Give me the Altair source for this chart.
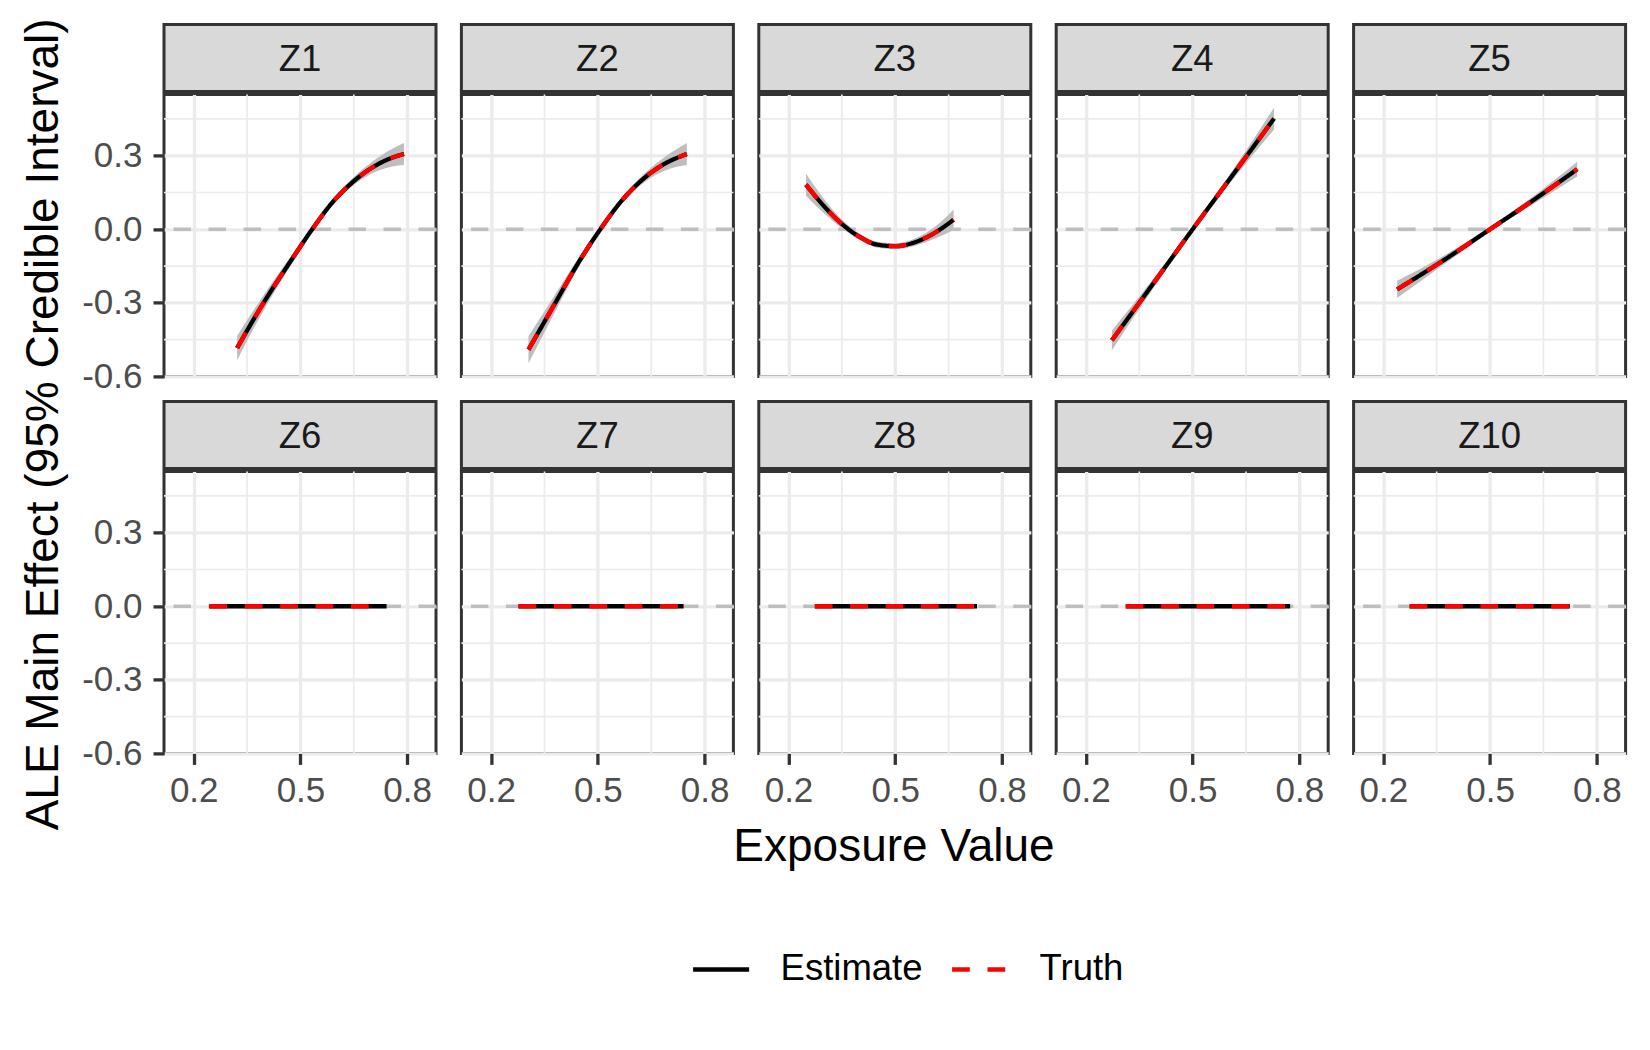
import altair as alt
import pandas as pd

FONT = "Liberation Sans"

PANELS = ["Z1", "Z2", "Z3", "Z4", "Z5", "Z6", "Z7", "Z8", "Z9", "Z10"]

Z1_X = [0.322, 0.392, 0.477, 0.533, 0.589, 0.645, 0.702, 0.758, 0.791]
Z1_EST = [-0.484, -0.310, -0.120, 0.000, 0.108, 0.190, 0.252, 0.292, 0.307]
Z1_TRUTH = [-0.484, -0.310, -0.120, 0.000, 0.108, 0.190, 0.252, 0.292, 0.307]
Z1_LO = [-0.534, -0.342, -0.138, -0.012, 0.096, 0.174, 0.228, 0.256, 0.262]
Z1_HI = [-0.434, -0.278, -0.102, 0.012, 0.120, 0.206, 0.276, 0.328, 0.352]

Z2_X = [0.305, 0.380, 0.446, 0.507, 0.568, 0.633, 0.689, 0.750]
Z2_EST = [-0.491, -0.301, -0.135, 0.000, 0.118, 0.212, 0.268, 0.307]
Z2_TRUTH = [-0.491, -0.301, -0.135, 0.000, 0.118, 0.212, 0.268, 0.307]
Z2_LO = [-0.546, -0.336, -0.155, -0.012, 0.106, 0.194, 0.240, 0.262]
Z2_HI = [-0.436, -0.266, -0.115, 0.012, 0.130, 0.230, 0.296, 0.352]

Z3_X = [0.249, 0.298, 0.349, 0.400, 0.447, 0.501, 0.559, 0.615, 0.664]
Z3_EST = [0.182, 0.097, 0.023, -0.031, -0.062, -0.069, -0.051, -0.011, 0.039]
Z3_TRUTH = [0.182, 0.097, 0.023, -0.031, -0.062, -0.069, -0.051, -0.011, 0.039]
Z3_LO = [0.137, 0.067, 0.005, -0.044, -0.074, -0.081, -0.066, -0.036, -0.003]
Z3_HI = [0.227, 0.127, 0.041, -0.018, -0.050, -0.057, -0.036, 0.014, 0.081]

Z4_X = [0.273, 0.387, 0.500, 0.615, 0.729]
Z4_EST = [-0.453, -0.226, 0.000, 0.226, 0.452]
Z4_TRUTH = [-0.453, -0.226, 0.000, 0.226, 0.452]
Z4_LO = [-0.493, -0.246, -0.010, 0.206, 0.407]
Z4_HI = [-0.413, -0.206, 0.010, 0.246, 0.497]

Z5_X = [0.239, 0.370, 0.500, 0.620, 0.745]
Z5_EST = [-0.245, -0.126, 0.000, 0.117, 0.245]
Z5_TRUTH = [-0.245, -0.126, 0.000, 0.117, 0.245]
Z5_LO = [-0.280, -0.144, -0.010, 0.101, 0.215]
Z5_HI = [-0.210, -0.108, 0.010, 0.133, 0.275]

Z6_X = [0.244, 0.742]
Z7_X = [0.277, 0.741]
Z8_X = [0.274, 0.730]
Z9_X = [0.312, 0.774]
Z10_X = [0.274, 0.724]
NULL_EST = [0.0, 0.0]
NULL_TRUTH = [0.0, 0.0]
NULL_LO = [-0.004, -0.004]
NULL_HI = [0.004, 0.004]

DATA = {
    "Z1": (Z1_X, Z1_EST, Z1_TRUTH, Z1_LO, Z1_HI),
    "Z2": (Z2_X, Z2_EST, Z2_TRUTH, Z2_LO, Z2_HI),
    "Z3": (Z3_X, Z3_EST, Z3_TRUTH, Z3_LO, Z3_HI),
    "Z4": (Z4_X, Z4_EST, Z4_TRUTH, Z4_LO, Z4_HI),
    "Z5": (Z5_X, Z5_EST, Z5_TRUTH, Z5_LO, Z5_HI),
    "Z6": (Z6_X, NULL_EST, NULL_TRUTH, NULL_LO, NULL_HI),
    "Z7": (Z7_X, NULL_EST, NULL_TRUTH, NULL_LO, NULL_HI),
    "Z8": (Z8_X, NULL_EST, NULL_TRUTH, NULL_LO, NULL_HI),
    "Z9": (Z9_X, NULL_EST, NULL_TRUTH, NULL_LO, NULL_HI),
    "Z10": (Z10_X, NULL_EST, NULL_TRUTH, NULL_LO, NULL_HI),
}

X_DOMAIN = [0.1165, 0.881]
Y_DOMAIN = [-0.6, 0.55]
X_MAJOR = [0.2, 0.5, 0.8]
X_MINOR = [0.35, 0.65]
Y_MAJOR = [-0.6, -0.3, 0.0, 0.3]
Y_MINOR = [-0.45, -0.15, 0.15, 0.45]
ZERO_LINE = [0.0]
SERIES = ["Estimate", "Truth"]
SERIES_COLORS = ["#000000", "#FF0000"]
SERIES_DASH = [[1, 0], [17.7, 17.7]]
X_TITLE = "Exposure Value"
Y_TITLE = "ALE Main Effect (95% Credible Interval)"

W, H, SH = 272, 282, 67
GRID = "#EBEBEB"
DARK = "#333333"

LEG = alt.Legend(
    title=None, orient="none", legendX=681.6, legendY=914.6, direction="horizontal",
    symbolType="stroke", symbolSize=3136, symbolStrokeWidth=4.3,
    labelFont=FONT, labelFontSize=36.5, labelColor="#000000",
    labelOffset=29, columnPadding=20, padding=0,
)
COLOR_SCALE = alt.Scale(domain=SERIES, range=SERIES_COLORS)
DASH_SCALE = alt.Scale(domain=SERIES, range=SERIES_DASH)


def make_strip(name):
    return alt.Chart(pd.DataFrame({"label": [name]})).mark_text(
        font=FONT, fontSize=36.5, color="#1A1A1A", baseline="alphabetic", align="center"
    ).encode(
        text="label:N", x=alt.value(W / 2), y=alt.value(SH / 2 + 13)
    ).properties(
        width=W, height=SH,
        view=alt.ViewBackground(fill="#D9D9D9", stroke=DARK, strokeWidth=3),
    )


def axis(values, show, pad, expr):
    return alt.Axis(
        values=values, title=None, grid=True, gridColor=GRID, gridWidth=3.3,
        domain=False, labels=show, ticks=show, tickSize=11 if show else 0,
        tickWidth=3.3, tickColor=DARK, labelFont=FONT, labelFontSize=35,
        labelColor="#4D4D4D", labelPadding=pad if show else 0,
        labelExpr=expr, minExtent=0, offset=0,
    )


def make_panel(name, left, bottom):
    xs, est, truth, lo, hi = DATA[name]
    band_df = pd.DataFrame({"x": xs, "lo": lo, "hi": hi})
    est_df = pd.DataFrame({"x": xs, "y": est, "series": ["Estimate"] * len(xs)})
    truth_df = pd.DataFrame({"x": xs, "y": truth, "series": ["Truth"] * len(xs)})

    xscale = alt.Scale(domain=X_DOMAIN, nice=False, zero=False)
    yscale = alt.Scale(domain=Y_DOMAIN, nice=False, zero=False)
    xaxis = axis(X_MAJOR, bottom, 9.5, "format(datum.value, '.1f')")
    yaxis = axis(
        Y_MAJOR, left, 11,
        "datum.value < 0 ? '-' + format(-datum.value, '.1f') : format(datum.value, '.1f')",
    )

    def X(f):
        return alt.X(f, type="quantitative", scale=xscale, axis=xaxis)

    def Y(f):
        return alt.Y(f, type="quantitative", scale=yscale, axis=yaxis)

    minor_x = alt.Chart(pd.DataFrame({"v": X_MINOR})).mark_rule(
        color=GRID, strokeWidth=1.7).encode(x=X("v"))
    minor_y = alt.Chart(pd.DataFrame({"v": Y_MINOR})).mark_rule(
        color=GRID, strokeWidth=1.7).encode(y=Y("v"))
    zero = alt.Chart(pd.DataFrame({"v": ZERO_LINE})).mark_rule(
        color="#BEBEBE", strokeWidth=3.3, strokeDash=[17.5, 17.5]).encode(y=Y("v"))
    ribbon = alt.Chart(band_df).mark_area(
        color="#BEBEBE", opacity=1, interpolate="monotone"
    ).encode(x=X("x"), y=Y("lo"), y2="hi")
    est_line = alt.Chart(est_df).mark_line(
        strokeWidth=4.3, interpolate="monotone"
    ).encode(
        x=X("x"), y=Y("y"),
        color=alt.Color("series:N", scale=COLOR_SCALE, legend=LEG),
        strokeDash=alt.StrokeDash("series:N", scale=DASH_SCALE, legend=LEG),
    )
    truth_line = alt.Chart(truth_df).mark_line(
        strokeWidth=4.3, interpolate="monotone"
    ).encode(
        x=X("x"), y=Y("y"),
        color=alt.Color("series:N", scale=COLOR_SCALE, legend=LEG),
        strokeDash=alt.StrokeDash("series:N", scale=DASH_SCALE, legend=LEG),
    )
    return alt.layer(minor_x, minor_y, zero, ribbon, est_line, truth_line).properties(
        width=W, height=H,
        view=alt.ViewBackground(fill="white", stroke=DARK, strokeWidth=3),
    )


rows = []
for r in range(2):
    cols = []
    for c in range(5):
        name = PANELS[r * 5 + c]
        col = alt.vconcat(make_strip(name), make_panel(name, c == 0, r == 1), spacing=-2)
        cols.append(col)
    rows.append(alt.hconcat(*cols, spacing=17.4))
grid = alt.vconcat(*rows, spacing=3)

ytitle = alt.Chart(pd.DataFrame({"t": [Y_TITLE]})).mark_text(
    font=FONT, fontSize=46, color="#000000", angle=270,
    baseline="alphabetic", align="center",
).encode(text="t:N", x=alt.value(49), y=alt.value(400)).properties(
    width=60, height=700, view=alt.ViewBackground(stroke="transparent"))

xtitle = alt.Chart(pd.DataFrame({"t": [X_TITLE]})).mark_text(
    font=FONT, fontSize=46, color="#000000",
    baseline="alphabetic", align="center",
).encode(text="t:N", x=alt.value(885), y=alt.value(29.7)).properties(
    width=1617, height=60, view=alt.ViewBackground(stroke="transparent"))

chart = alt.vconcat(
    alt.hconcat(ytitle, grid, spacing=10),
    xtitle,
    spacing=-26.7,
).properties(
    padding={"left": 0, "top": 9.4, "right": 5, "bottom": 5},
    background="white",
).configure(font=FONT)

chart.save("out.html", embed_options={"renderer": "svg", "actions": False})
